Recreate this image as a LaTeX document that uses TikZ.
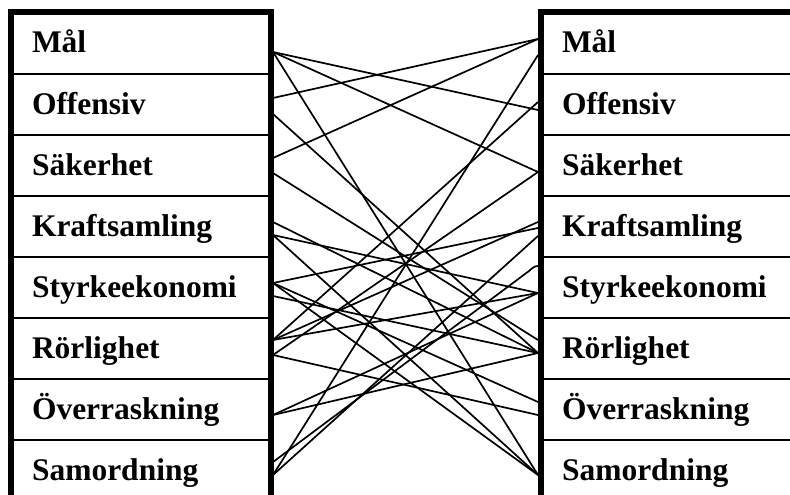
\documentclass[tikz,border=0pt]{standalone}
\usepackage{fontspec}
\setmainfont{Liberation Serif}

\begin{document}
\begin{tikzpicture}[x=1pt,y=-1pt]
    \tikzset{cell/.style = {shape=rectangle, draw, line width=1.6pt, minimum width=258pt, minimum height=61pt, text width=218pt, inner xsep=20pt, inner ysep=0pt, text height=24pt, text depth=5pt, align=left, font=\fontsize{31.5}{36}\selectfont\bfseries}}
    \tikzset{edge/.style = {draw=black, line width=1.7pt, -}}
    \tikzset{frame/.style = {draw=black, line width=6pt, line join=miter}}
    \useasboundingbox (0,0) rectangle (790,495);
    \clip (0,0) rectangle (790,495);
    % left column
    \node[cell] (l1) at (141,43.5)  {Mål};
    \node[cell] (l2) at (141,104.5) {Offensiv};
    \node[cell] (l3) at (141,165.5) {Säkerhet};
    \node[cell] (l4) at (141,226.5) {Kraftsamling};
    \node[cell] (l5) at (141,287.5) {Styrkeekonomi};
    \node[cell] (l6) at (141,348.5) {Rörlighet};
    \node[cell] (l7) at (141,409.5) {Överraskning};
    \node[cell] (l8) at (141,470.5) {Samordning};
    % right column
    \node[cell] (r1) at (671,43.5)  {Mål};
    \node[cell] (r2) at (671,104.5) {Offensiv};
    \node[cell] (r3) at (671,165.5) {Säkerhet};
    \node[cell] (r4) at (671,226.5) {Kraftsamling};
    \node[cell] (r5) at (671,287.5) {Styrkeekonomi};
    \node[cell] (r6) at (671,348.5) {Rörlighet};
    \node[cell] (r7) at (671,409.5) {Överraskning};
    \node[cell] (r8) at (671,470.5) {Samordning};
    % heavy frames
    \draw[frame] (l8.south west) -- (l1.north west) -- (l1.north east) -- (l8.south east);
    \draw[frame] (r8.south west) -- (r1.north west) -- (r1.north east);
    % attachment points, left side
    \coordinate (l1a) at (273,52);
    \coordinate (l2a) at (273,98);
    \coordinate (l2b) at (273,114);
    \coordinate (l3a) at (273,158);
    \coordinate (l3b) at (273,173);
    \coordinate (l4a) at (273,222);
    \coordinate (l4b) at (273,235);
    \coordinate (l5a) at (273,283);
    \coordinate (l5b) at (273,296);
    \coordinate (l6a) at (273,340);
    \coordinate (l6b) at (273,355);
    \coordinate (l7a) at (273,415);
    \coordinate (l8a) at (273,462);
    \coordinate (l8b) at (273,475);
    % attachment points, right side
    \coordinate (r1a) at (538,39);
    \coordinate (r1b) at (538,55);
    \coordinate (r2a) at (538,102);
    \coordinate (r2b) at (538,110);
    \coordinate (r3a) at (538,172);
    \coordinate (r4a) at (538,222);
    \coordinate (r4b) at (538,228);
    \coordinate (r4c) at (538,236);
    \coordinate (r5a) at (538,266);
    \coordinate (r5b) at (538,293);
    \coordinate (r6a) at (538,340);
    \coordinate (r6b) at (538,353);
    \coordinate (r7a) at (538,402);
    \coordinate (r7b) at (538,415);
    \coordinate (r8a) at (538,475);
    \coordinate (hook) at (529,271);
    % edges
    \draw[edge] (l1a) to (r2b);
    \draw[edge] (l1a) to (r3a);
    \draw[edge] (l1a) to (r8a);
    \draw[edge] (l2a) to (r1a);
    \draw[edge] (l2b) to (r6b);
    \draw[edge] (l3a) to (r1a);
    \draw[edge] (l3b) to (r6a);
    \draw[edge] (l4a) to (r6b);
    \draw[edge] (l4b) to (r5b);
    \draw[edge] (l4b) to (r8a);
    \draw[edge] (l5a) to (r4b);
    \draw[edge] (l5a) to (r7a);
    \draw[edge] (l5a) to (r8a);
    \draw[edge] (l5b) to (r6b);
    \draw[edge] (l6a) to (r2a);
    \draw[edge] (l6a) to (r4a);
    \draw[edge] (l6a) to (r5b);
    \draw[edge] (l6b) to (r3a);
    \draw[edge] (l6b) to (r7b);
    \draw[edge] (l7a) to (r5b);
    \draw[edge] (l7a) to (r6b);
    \draw[edge] (l8a) -- (hook) to[out=40,in=180] (r5a);
    \draw[edge] (l8b) to (r1b);
    \draw[edge] (l8b) to (r4c);
\end{tikzpicture}
\end{document}
